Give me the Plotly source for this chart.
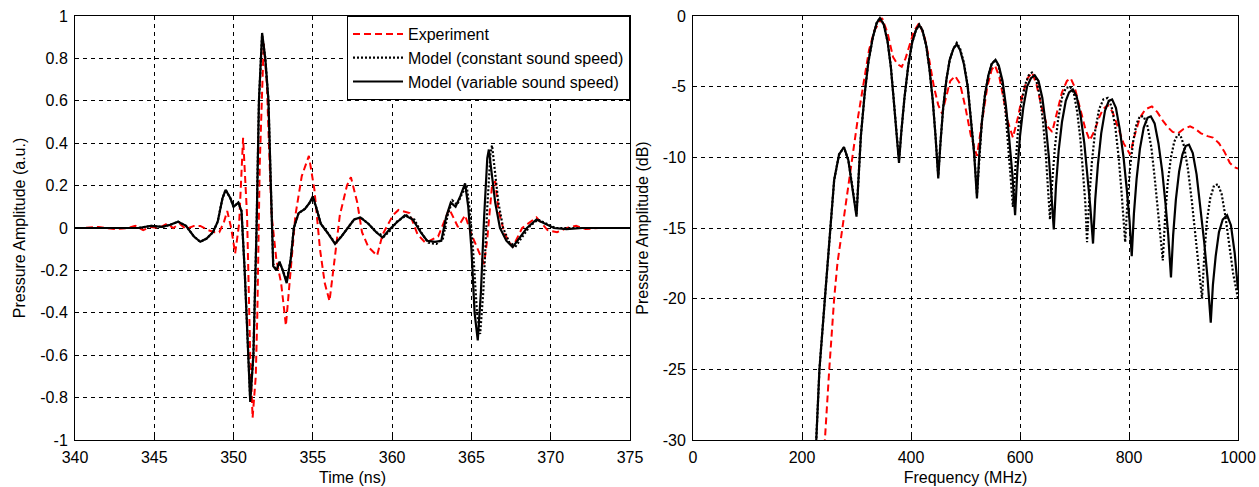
import plotly.graph_objects as go

# ---------------- Time-domain data (ns, a.u.) ----------------
t_exp = [340.0, 340.5, 341.5, 342.5, 343.3, 343.8, 344.3, 344.8, 345.3, 345.8, 346.2, 346.6,
         347.0, 347.5, 347.9, 348.4, 348.8, 349.1, 349.4, 349.6, 349.85, 350.1, 350.35, 350.6,
         350.85, 351.05, 351.2, 351.4, 351.5, 351.65, 351.9, 352.1, 352.25, 352.4, 352.7, 353.0,
         353.3, 353.55, 353.9, 354.3, 354.75, 355.1, 355.45, 355.75, 356.05, 356.4, 356.7, 357.15,
         357.4, 357.8, 358.1, 358.5, 359.05, 359.4, 360.05, 360.4, 361.1, 361.6, 362.1, 362.9,
         363.3, 363.6, 364.15, 364.6, 365.0, 365.5, 365.8, 366.0, 366.3, 366.5, 366.7, 367.1,
         367.6, 368.2, 369.1, 369.8, 370.4, 371.0, 371.6, 372.2, 373.0, 374.0, 375.0]
p_exp = [0.0, 0.0, 0.005, -0.005, 0.0, 0.01, -0.01, 0.005, 0.0, 0.02, 0.0, 0.02,
         -0.005, 0.01, 0.01, -0.01, -0.02, -0.02, 0.03, 0.08, 0.0, -0.12, 0.02, 0.425,
         0.06, -0.6, -0.895, -0.7, -0.4, 0.3, 0.87, 0.68, 0.35, 0.06, -0.15, -0.26,
         -0.46, -0.23, 0.06, 0.245, 0.34, 0.18, -0.1, -0.26, -0.345, -0.13, 0.06, 0.2,
         0.24, 0.12, -0.02, -0.09, -0.13, -0.03, 0.06, 0.085, 0.07, -0.03, -0.07, -0.04,
         0.04, 0.09, 0.005, 0.06, -0.03, -0.12, -0.17, -0.05, 0.2, 0.22, 0.085, -0.03,
         -0.09, 0.0, 0.05, -0.01, -0.02, 0.0, 0.01, -0.005, 0.0, 0.0, 0.0]

t_const = [340.0, 341.0, 342.0, 343.0, 344.0, 344.8, 345.5, 346.0, 346.5, 347.0, 347.5, 347.9,
           348.3, 348.7, 349.0, 349.3, 349.5, 349.8, 350.0, 350.3, 350.5, 350.7, 350.9, 351.05,
           351.25, 351.45, 351.6, 351.8, 352.0, 352.2, 352.35, 352.5, 352.7, 352.9, 353.1, 353.35,
           353.6, 353.8, 354.1, 354.5, 354.8, 355.0, 355.2, 355.5, 355.9, 356.4, 356.8, 357.2,
           357.6, 358.0, 358.5, 359.0, 359.5, 359.9, 360.3, 360.9, 361.4, 361.9, 362.3, 362.8,
           363.2, 363.5, 363.8, 364.1, 364.4, 364.7, 364.9, 365.1, 365.35, 365.55, 365.75, 366.0,
           366.2, 366.3, 366.45, 366.7, 367.0, 367.4, 367.8, 368.2, 368.7, 369.2, 369.7, 370.3,
           371.5, 373.0, 375.0]
p_const = [0.0, 0.0, 0.0, 0.002, 0.0, 0.01, 0.005, 0.015, 0.03, 0.01, -0.04, -0.065,
           -0.05, -0.02, 0.03, 0.14, 0.18, 0.14, 0.1, 0.12, 0.08, -0.2, -0.6, -0.81,
           -0.6, 0.0, 0.6, 0.91, 0.8, 0.6, 0.2, -0.17, -0.2, -0.16, -0.2, -0.25,
           -0.15, 0.0, 0.07, 0.09, 0.12, 0.14, 0.1, 0.02, -0.02, -0.07, -0.04, 0.0,
           0.04, 0.05, 0.02, -0.02, -0.04, -0.01, 0.03, 0.06, 0.04, -0.03, -0.07, -0.075,
           -0.05, 0.06, 0.13, 0.11, 0.16, 0.2, 0.08, -0.1, -0.4, -0.5, -0.3, 0.1,
           0.35, 0.39, 0.28, 0.12, 0.0, -0.07, -0.085, -0.04, 0.01, 0.04, 0.02, 0.0,
           0.0, 0.0, 0.0]

t_var = [340.0, 341.0, 342.0, 343.0, 344.0, 344.8, 345.5, 346.0, 346.5, 347.0, 347.5, 347.9,
         348.3, 348.7, 349.0, 349.3, 349.5, 349.8, 350.0, 350.3, 350.5, 350.7, 350.9, 351.05,
         351.25, 351.45, 351.6, 351.8, 352.0, 352.2, 352.35, 352.5, 352.7, 352.9, 353.1, 353.35,
         353.6, 353.8, 354.1, 354.5, 354.8, 355.0, 355.2, 355.5, 355.9, 356.4, 356.8, 357.2,
         357.6, 358.0, 358.5, 359.0, 359.4, 359.8, 360.2, 360.8, 361.3, 361.8, 362.2, 362.7,
         363.1, 363.4, 363.7, 364.0, 364.3, 364.6, 364.8, 365.0, 365.2, 365.4, 365.6, 365.8,
         366.0, 366.1, 366.3, 366.5, 366.8, 367.2, 367.6, 368.0, 368.5, 369.1, 369.6, 370.2,
         371.0, 372.0, 375.0]
p_var = [0.0, 0.0, 0.0, 0.002, 0.0, 0.01, 0.005, 0.015, 0.03, 0.01, -0.04, -0.065,
         -0.05, -0.02, 0.03, 0.14, 0.18, 0.14, 0.1, 0.12, 0.08, -0.2, -0.6, -0.82,
         -0.6, 0.0, 0.6, 0.92, 0.8, 0.6, 0.2, -0.18, -0.2, -0.16, -0.2, -0.26,
         -0.15, 0.0, 0.07, 0.09, 0.12, 0.15, 0.1, 0.02, -0.02, -0.075, -0.04, 0.0,
         0.04, 0.05, 0.02, -0.02, -0.045, -0.01, 0.02, 0.06, 0.04, -0.02, -0.06, -0.065,
         -0.06, 0.05, 0.12, 0.1, 0.15, 0.21, 0.1, -0.1, -0.4, -0.53, -0.3, 0.05,
         0.33, 0.37, 0.25, 0.12, 0.0, -0.06, -0.09, -0.05, 0.0, 0.04, 0.02, 0.0,
         -0.005, 0.0, 0.0]

# ---------------- Frequency-domain data (MHz, dB) ----------------
f_exp = [238, 242, 250, 259, 265, 271, 282, 292, 303, 312, 323, 333, 347, 357, 367, 375, 383,
         390, 395, 405, 415, 425, 433, 442, 450, 457, 464, 472, 481, 490, 500, 510, 521, 530,
         540, 548, 554, 562, 570, 578, 587, 596, 605, 614, 622, 630, 640, 650, 659, 668, 677,
         686, 693, 700, 710, 720, 728, 737, 745, 752, 761, 770, 780, 790, 802, 810, 820, 830,
         842, 852, 862, 872, 880, 890, 900, 912, 922, 932, 944, 954, 965, 975, 985, 993, 1000]
db_exp = [-32, -30, -25, -20, -17.5, -15.85, -13, -10, -7.1, -5, -2.4, -1.0, -0.15, -1.2, -2.9,
          -3.4, -3.6, -3.0, -2.4, -1.1, -0.5, -1.5, -3.0, -5, -6.3, -6.9, -5.8, -4.6, -4.25,
          -4.8, -6.5, -8.5, -9.9, -7.5, -5.0, -3.8, -3.5, -4.3, -5.8, -7.5, -8.6, -7.2, -5.5,
          -4.4, -4.0, -4.8, -6.5, -7.8, -8.2, -6.8, -5.4, -4.6, -4.4, -5.0, -6.5, -8.0, -8.8,
          -8.1, -7.2, -6.6, -6.3, -6.8, -7.9, -9.0, -9.8, -8.5, -7.2, -6.6, -6.4, -6.8, -7.4,
          -7.9, -8.2, -8.3, -8.0, -7.8, -8.0, -8.3, -8.5, -8.6, -9.0, -9.6, -10.4, -10.7, -10.8]

f_const = [225, 232, 242, 250, 259, 268, 277, 285, 292, 300,
           303, 308, 315, 322, 330, 337, 343, 350, 357, 363, 368, 373, 378,
           382, 388, 395, 402, 409, 415, 421, 428, 434, 440, 445, 450,
           454, 459, 465, 471, 478, 484, 490, 497, 504, 510, 516, 521,
           525, 530, 536, 542, 548, 555, 561, 567, 573, 578, 583, 587,
           591, 596, 602, 609, 616, 622, 629, 636, 642, 647, 651, 655,
           659, 664, 670, 677, 684, 692, 699, 705, 711, 716, 720, 723,
           727, 732, 738, 745, 753, 761, 768, 775, 781, 786, 790, 793,
           797, 802, 808, 814, 820, 827, 834, 841, 847, 853, 858, 862,
           866, 871, 877, 883, 889, 894, 901, 908, 915, 922, 928, 934,
           938, 943, 949, 956, 963, 970, 977, 984, 991, 1000]
db_const = [-31, -25, -20, -16, -11.6, -9.8, -9.3, -10.2, -12, -14.0,
            -12, -8.5, -5.5, -3.2, -1.5, -0.5, -0.15, -0.6, -1.8, -3.6, -5.8, -8.3, -10.2,
            -8.3, -5.8, -3.5, -1.9, -1.0, -0.6, -1.0, -2.1, -3.8, -6.0, -8.5, -11.3,
            -9.0, -6.5, -4.5, -3.1, -2.3, -1.9, -2.3, -3.3, -4.9, -7.1, -9.7, -12.6,
            -10, -7.5, -5.5, -4.2, -3.4, -3.1, -3.6, -4.8, -6.6, -9.0, -11.3, -13.5,
            -11, -8.3, -6.3, -4.9, -4.2, -4.0, -4.4, -5.6, -7.4, -9.6, -12, -14.4,
            -11.8, -9.3, -7.3, -5.8, -5.1, -5.0, -5.5, -6.8, -8.8, -11, -13.3, -16,
            -13, -10.3, -8.1, -6.6, -5.9, -5.8, -6.4, -7.9, -10, -12.3, -14.2, -16.0,
            -13.2, -10.7, -8.8, -7.6, -7.1, -7.1, -7.8, -9.3, -11.4, -13.6, -15.5, -17.3,
            -14.4, -11.8, -10, -8.9, -8.4, -8.4, -9.2, -10.8, -13, -15.5, -17.6, -20.0,
            -17, -14.5, -12.9, -12.0, -11.9, -12.6, -14.2, -16.3, -18.2, -20.0]

f_var = [225, 232, 242, 250, 259, 268, 277, 285, 292, 300,
         303, 308, 315, 322, 330, 337, 343, 350, 357, 363, 368, 373, 378,
         382, 388, 395, 402, 409, 415, 421, 428, 434, 440, 445, 450,
         454, 459, 465, 471, 478, 484, 490, 497, 504, 510, 516, 521,
         525, 530, 536, 542, 548, 555, 561, 568, 574, 580, 586, 591,
         595, 600, 606, 613, 620, 627, 634, 641, 647, 653, 658, 662,
         666, 671, 677, 684, 690, 697, 704, 711, 718, 724, 729, 734,
         738, 743, 749, 756, 763, 769, 776, 783, 790, 796, 801, 805,
         809, 814, 820, 827, 834, 840, 847, 854, 861, 867, 872, 877,
         881, 886, 892, 898, 904, 910, 917, 924, 931, 938, 944, 950,
         954, 959, 965, 972, 980, 987, 994, 1000]
db_var = [-31, -25, -20, -16, -11.6, -9.8, -9.27, -10.2, -12, -14.2,
          -12, -8.5, -5.5, -3.2, -1.5, -0.5, -0.15, -0.6, -1.8, -3.6, -5.8, -8.3, -10.4,
          -8.3, -5.8, -3.5, -1.9, -1.0, -0.64, -1.0, -2.1, -3.8, -6.0, -8.5, -11.5,
          -9.0, -6.5, -4.5, -3.1, -2.3, -2.0, -2.4, -3.4, -5.0, -7.2, -9.8, -12.9,
          -10, -7.5, -5.5, -4.2, -3.4, -3.1, -3.5, -4.6, -6.3, -8.6, -11.2, -14.1,
          -11, -8.5, -6.5, -5.0, -4.4, -4.2, -4.6, -5.8, -7.6, -10, -12.5, -15.1,
          -12, -9.5, -7.5, -6.0, -5.4, -5.2, -5.7, -7.0, -9.0, -11.3, -13.5, -16.1,
          -13, -10.5, -8.3, -6.7, -6.0, -5.9, -6.5, -8.0, -10.0, -12.3, -14.5, -17.0,
          -14, -11.5, -9.4, -7.9, -7.2, -7.1, -7.6, -9.0, -11.0, -13.3, -15.5, -18.5,
          -15.5, -13, -11, -9.8, -9.2, -9.1, -9.7, -11.2, -13.5, -16, -18.5, -21.7,
          -19, -17, -15.3, -14.4, -14.1, -14.8, -16.8, -19.4]

# ---------------- Tick labels ----------------
time_ticks = [340, 345, 350, 355, 360, 365, 370, 375]
amp_ticks = [-1, -0.8, -0.6, -0.4, -0.2, 0, 0.2, 0.4, 0.6, 0.8, 1]
amp_labels = ["-1", "-0.8", "-0.6", "-0.4", "-0.2", "0", "0.2", "0.4", "0.6", "0.8", "1"]
freq_ticks = [0, 200, 400, 600, 800, 1000]
db_ticks = [-30, -25, -20, -15, -10, -5, 0]
db_labels = ["-30", "-25", "-20", "-15", "-10", "-5", "0"]

series_names = ["Experiment", "Model (constant sound speed)", "Model (variable sound speed)"]

RED = "#ff0000"
FONT = "Liberation Sans, Arial, sans-serif"

exp_line = dict(color=RED, width=2, dash="7px,4px")
const_line = dict(color="black", width=2.2, dash="2px,2px")
var_line = dict(color="black", width=2.2)

fig = go.Figure()
fig.add_trace(go.Scatter(x=t_exp, y=p_exp, mode="lines", line=exp_line, name=series_names[0],
                         legendgroup="a", xaxis="x", yaxis="y"))
fig.add_trace(go.Scatter(x=t_const, y=p_const, mode="lines", line=const_line, name=series_names[1],
                         legendgroup="b", xaxis="x", yaxis="y"))
fig.add_trace(go.Scatter(x=t_var, y=p_var, mode="lines", line=var_line, name=series_names[2],
                         legendgroup="c", xaxis="x", yaxis="y"))
fig.add_trace(go.Scatter(x=f_exp, y=db_exp, mode="lines", line=exp_line, showlegend=False,
                         xaxis="x2", yaxis="y2"))
fig.add_trace(go.Scatter(x=f_const, y=db_const, mode="lines", line=const_line, showlegend=False,
                         xaxis="x2", yaxis="y2"))
fig.add_trace(go.Scatter(x=f_var, y=db_var, mode="lines", line=var_line, showlegend=False,
                         xaxis="x2", yaxis="y2"))

axis_common = dict(
    showline=True, linecolor="black", linewidth=1, mirror="ticks",
    ticks="inside", ticklen=4, tickcolor="black",
    showgrid=True, gridcolor="black", gridwidth=1, griddash="4px,4px",
    zeroline=False, tickfont=dict(family=FONT, size=16, color="black"),
    ticklabelstandoff=3, automargin=False,
)

W, H = 1259, 487
ydom = [(H - 440) / H, (H - 16) / H]

fig.update_layout(
    width=W, height=H, autosize=False,
    margin=dict(l=0, r=0, t=0, b=0, autoexpand=False),
    paper_bgcolor="white", plot_bgcolor="white",
    font=dict(family=FONT, size=16, color="black"),
    xaxis=dict(axis_common, domain=[75 / W, 630 / W], range=[340, 375], anchor="y",
               tickvals=time_ticks, ticktext=[str(v) for v in time_ticks],
               title=dict(text="Time (ns)", standoff=6, font=dict(size=16))),
    yaxis=dict(axis_common, domain=ydom, range=[-1, 1], anchor="x",
               tickvals=amp_ticks, ticktext=amp_labels,
               title=dict(text="Pressure Amplitude (a.u.)", standoff=10, font=dict(size=16))),
    xaxis2=dict(axis_common, domain=[693 / W, 1238 / W], range=[0, 1000], anchor="y2",
                tickvals=freq_ticks, ticktext=[str(v) for v in freq_ticks],
                title=dict(text="Frequency (MHz)", standoff=6, font=dict(size=16))),
    yaxis2=dict(axis_common, domain=ydom, range=[-30, 0], anchor="x2",
                tickvals=db_ticks, ticktext=db_labels,
                title=dict(text="Pressure Amplitude (dB)", standoff=10, font=dict(size=16))),
    legend=dict(x=630 / W, y=ydom[1], xanchor="right", yanchor="top",
                bgcolor="white", bordercolor="black", borderwidth=1,
                font=dict(family=FONT, size=16, color="black"),
                tracegroupgap=0, itemwidth=50),
    showlegend=True,
)

fig.write_html("out.html", config={"displayModeBar": False},
               post_script="document.body.style.margin='0';")
